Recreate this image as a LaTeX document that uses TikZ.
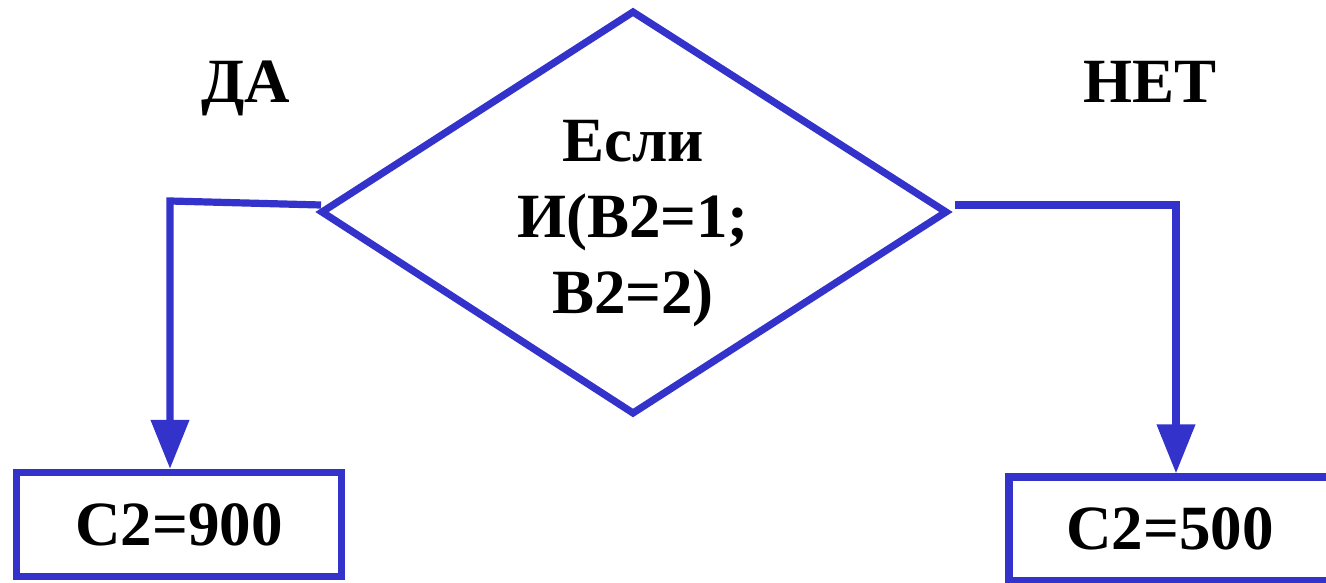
\documentclass[tikz,border=0pt]{standalone}
\usepackage{fontspec}
\setmainfont{Liberation Serif}
\usetikzlibrary{arrows.meta}
\definecolor{flowblue}{RGB}{51,51,204}

\begin{document}
\begin{tikzpicture}[x=1pt, y=-1pt,
    line/.style = {draw=flowblue, line width=7.2pt},
    arr/.style = {line, -{Triangle[width=37pt, length=49pt]}},
    txt/.style = {font=\fontsize{63}{76}\selectfont\bfseries, align=center, inner sep=0pt},
    result/.style = {txt, draw=flowblue, line width=7.2pt, minimum height=104pt}]
        \useasboundingbox (0,0) rectangle (1326,583);
        % condition
        \coordinate (top) at (633,12);
        \coordinate (right) at (946,212);
        \coordinate (bottom) at (633,413);
        \coordinate (left) at (322,212);
        \draw[line] (top) -- (right) -- (bottom) -- (left) -- cycle;
        \node[txt] (cond) at (633,224) {Если\\И(B2=1;\\B2=2)};
        % branch labels
        \node[txt, anchor=base] (da) at (246,103) {ДА};
        \node[txt, anchor=base] (net) at (1150,103) {НЕТ};
        % results
        \node[result, minimum width=325pt] (yes) at (179,524.5) {C2=900};
        \node[result, minimum width=322pt] (no) at (1170,529) {C2=500};
        % connectors
        \coordinate (yesstart) at (321,205);
        \coordinate (nostart) at (955,205);
        \draw[arr] (yesstart) -- (170,201) -- ([xshift=-9pt]yes.north);
        \draw[arr] (nostart) -- (1176,205) -- ([xshift=6pt]no.north);
\end{tikzpicture}
\end{document}
